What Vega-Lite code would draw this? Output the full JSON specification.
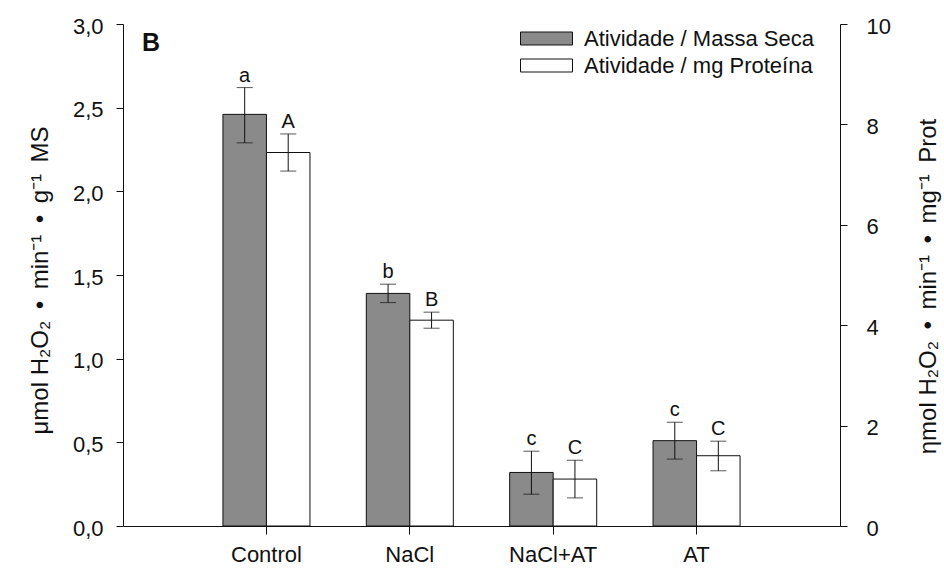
{
  "$schema": "https://vega.github.io/schema/vega-lite/v6.json",
  "width": 717,
  "height": 502,
  "autosize": {"type": "none"},
  "padding": {"left": 123, "top": 24, "right": 104, "bottom": 43},
  "background": "white",
  "config": {
    "font": "Liberation Sans",
    "view": {"stroke": null},
    "axis": {"domainColor": "#111", "tickColor": "#111", "labelColor": "#111", "titleColor": "#111", "labelFont": "Liberation Sans", "titleFont": "Liberation Sans", "labelFontSize": 22, "titleFontSize": 24, "titleFontWeight": "normal", "grid": false, "tickSize": 7, "domainWidth": 1, "tickWidth": 1},
    "legend": {"labelFont": "Liberation Sans", "labelFontSize": 22, "labelColor": "#111", "labelLimit": 0}
  },
  "title": {"text": "B", "anchor": "start", "frame": "group", "fontSize": 25, "fontWeight": "bold", "color": "#111", "offset": -41, "dx": 19, "font": "Liberation Sans"},
  "data": {"values": [
    {"treatment": "Control", "series": "Atividade / Massa Seca", "value": 2.46, "lo": 2.29, "hi": 2.62, "letter": "a"},
    {"treatment": "Control", "series": "Atividade / mg Proteína", "value": 7.44, "lo": 7.07, "hi": 7.81, "letter": "A"},
    {"treatment": "NaCl", "series": "Atividade / Massa Seca", "value": 1.39, "lo": 1.335, "hi": 1.445, "letter": "b"},
    {"treatment": "NaCl", "series": "Atividade / mg Proteína", "value": 4.1, "lo": 3.94, "hi": 4.26, "letter": "B"},
    {"treatment": "NaCl+AT", "series": "Atividade / Massa Seca", "value": 0.32, "lo": 0.19, "hi": 0.447, "letter": "c"},
    {"treatment": "NaCl+AT", "series": "Atividade / mg Proteína", "value": 0.935, "lo": 0.56, "hi": 1.31, "letter": "C"},
    {"treatment": "AT", "series": "Atividade / Massa Seca", "value": 0.51, "lo": 0.4, "hi": 0.62, "letter": "c"},
    {"treatment": "AT", "series": "Atividade / mg Proteína", "value": 1.4, "lo": 1.1, "hi": 1.69, "letter": "C"}
  ]},
  "encoding": {
    "x": {"field": "treatment", "type": "nominal", "sort": ["Control", "NaCl", "NaCl+AT", "AT"],
      "scale": {"paddingInner": 0.393, "paddingOuter": 0.697},
      "axis": {"title": null, "labelAngle": 0, "tickSize": 8, "labelPadding": 10, "domain": true}},
    "xOffset": {"field": "series", "type": "nominal", "scale": {"domain": ["Atividade / Massa Seca", "Atividade / mg Proteína"], "paddingInner": 0, "paddingOuter": 0}}
  },
  "layer": [
    {
      "transform": [{"filter": "datum.series === 'Atividade / Massa Seca'"}],
      "encoding": {
        "y": {"field": "value", "type": "quantitative", "scale": {"domain": [0, 3], "nice": false},
          "axis": {"orient": "left", "values": [0, 0.5, 1, 1.5, 2, 2.5, 3], "labelExpr": "replace(format(datum.value, '.1f'), '.', ',')", "title": "μmol H₂O₂\u00a0\u2009•\u2009\u00a0min⁻¹\u00a0\u2009•\u2009\u00a0g⁻¹\u00a0\u2009MS", "titlePadding": 20, "labelPadding": 13, "labelOffset": 2, "titleY": 256}}
      },
      "layer": [
        {"mark": {"type": "bar", "stroke": "#111", "strokeWidth": 1},
         "encoding": {"fill": {"field": "series", "type": "nominal", "scale": {"domain": ["Atividade / Massa Seca", "Atividade / mg Proteína"], "range": ["#8a8a8a", "#ffffff"]},
           "legend": {"title": null, "orient": "none", "legendX": 410, "legendY": 1, "symbolType": "M-2,-0.5H2V0.5H-2Z", "symbolSize": 676, "symbolStrokeColor": "#111", "symbolStrokeWidth": 1, "rowPadding": 2, "labelOffset": 24, "padding": 0}}}},
        {"mark": {"type": "rule", "color": "#111", "strokeWidth": 1}, "encoding": {"y": {"field": "lo", "type": "quantitative"}, "y2": {"field": "hi"}}},
        {"mark": {"type": "tick", "color": "#111", "size": 16, "thickness": 1}, "encoding": {"y": {"field": "lo", "type": "quantitative"}}},
        {"mark": {"type": "tick", "color": "#111", "size": 16, "thickness": 1}, "encoding": {"y": {"field": "hi", "type": "quantitative"}}},
        {"mark": {"type": "text", "fontSize": 20, "baseline": "alphabetic", "dy": -6, "color": "#111"}, "encoding": {"y": {"field": "hi", "type": "quantitative"}, "text": {"field": "letter"}}}
      ]
    },
    {
      "transform": [{"filter": "datum.series === 'Atividade / mg Proteína'"}],
      "encoding": {
        "y": {"field": "value", "type": "quantitative", "scale": {"domain": [0, 10], "nice": false},
          "axis": {"orient": "right", "values": [0, 2, 4, 6, 8, 10], "title": "ηmol H₂O₂\u00a0\u2009•\u2009\u00a0min⁻¹\u00a0\u2009•\u2009\u00a0mg⁻¹\u00a0\u2009Prot", "titleAngle": 270, "titleBaseline": "top", "titlePadding": 26, "labelPadding": 19, "labelOffset": 2, "titleY": 262}}
      },
      "layer": [
        {"mark": {"type": "bar", "stroke": "#111", "strokeWidth": 1},
         "encoding": {"fill": {"field": "series", "type": "nominal"}}},
        {"mark": {"type": "rule", "color": "#111", "strokeWidth": 1}, "encoding": {"y": {"field": "lo", "type": "quantitative"}, "y2": {"field": "hi"}}},
        {"mark": {"type": "tick", "color": "#111", "size": 16, "thickness": 1}, "encoding": {"y": {"field": "lo", "type": "quantitative"}}},
        {"mark": {"type": "tick", "color": "#111", "size": 16, "thickness": 1}, "encoding": {"y": {"field": "hi", "type": "quantitative"}}},
        {"mark": {"type": "text", "fontSize": 20, "baseline": "alphabetic", "dy": -6, "color": "#111"}, "encoding": {"y": {"field": "hi", "type": "quantitative"}, "text": {"field": "letter"}}}
      ]
    }
  ],
  "resolve": {"scale": {"y": "independent"}}
}
